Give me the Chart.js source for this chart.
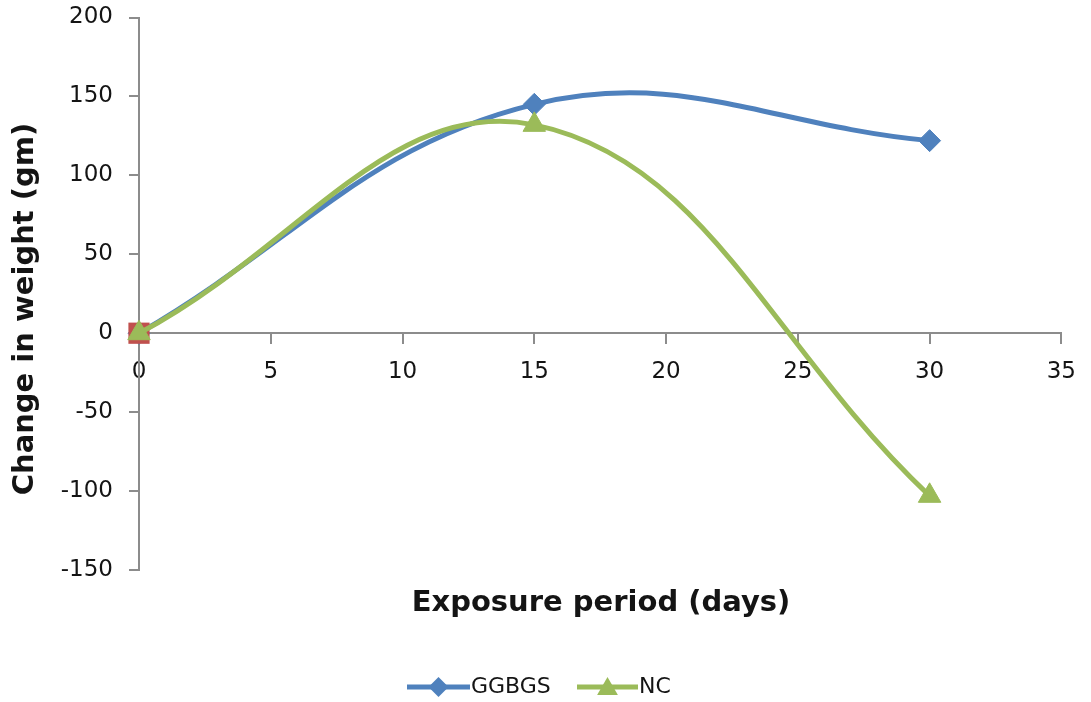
<!DOCTYPE html>
<html>
<head>
<meta charset="utf-8">
<script src="https://cdn.jsdelivr.net/npm/chart.js@4/dist/chart.umd.min.js"></script>
<style>
  html, body { margin: 0; padding: 0; background: #ffffff; }
  #wrap { width: 1091px; height: 702px; position: relative; }
</style>
</head>
<body>
<div id="wrap"><canvas id="chart"></canvas></div>
<script>
// Exposure period (days) and change in weight (gm) for each mix
const days = [0, 15, 30];
const ggbgs = [0, 145, 122];
const nc = [0, 132, -103];
const initialDays = [0];
const initialWeight = [0];

const xMin = 0, xMax = 35, xStep = 5;
const yMin = -150, yMax = 200, yStep = 50;

const xTitle = 'Exposure period (days)';
const yTitle = 'Change in weight (gm)';

const BLUE = '#4F81BD';
const RED = '#C0504D';
const GREEN = '#9BBB59';
const AXIS = '#8c8c8c';
const TEXT = '#141414';

const toPoints = (xs, ys) => xs.map((x, i) => ({ x: x, y: ys[i] }));

// Legend entries drawn beneath the plot (line sample with its marker)
const keyItems = [
  { label: 'GGBGS', color: BLUE, marker: 'diamond', x0: 407, x1: 470 },
  { label: 'NC', color: GREEN, marker: 'triangle', x0: 577, x1: 638 }
];

function markerPath(ctx, kind, cx, cy, r) {
  ctx.beginPath();
  if (kind === 'diamond') {
    ctx.moveTo(cx, cy - r);
    ctx.lineTo(cx + r, cy);
    ctx.lineTo(cx, cy + r);
    ctx.lineTo(cx - r, cy);
  } else {
    const h = r * Math.sqrt(3) / 2;
    ctx.moveTo(cx, cy - r);
    ctx.lineTo(cx + h, cy + r / 2);
    ctx.lineTo(cx - h, cy + r / 2);
  }
  ctx.closePath();
}

const titlesAndKey = {
  id: 'titlesAndKey',
  afterDraw(chart) {
    const ctx = chart.ctx;
    ctx.save();
    ctx.fillStyle = TEXT;
    ctx.font = 'bold 29px "DejaVu Sans"';
    ctx.textAlign = 'center';
    ctx.textBaseline = 'middle';
    ctx.fillText(xTitle, 601, 603);

    ctx.save();
    ctx.translate(25, 309);
    ctx.rotate(-Math.PI / 2);
    ctx.fillText(yTitle, 0, 0);
    ctx.restore();

    const ky = 687;
    keyItems.forEach(item => {
      ctx.strokeStyle = item.color;
      ctx.lineWidth = 5;
      ctx.lineCap = 'butt';
      ctx.beginPath();
      ctx.moveTo(item.x0, ky);
      ctx.lineTo(item.x1, ky);
      ctx.stroke();
      const cx = (item.x0 + item.x1) / 2;
      ctx.fillStyle = item.color;
      if (item.marker === 'diamond') {
        markerPath(ctx, 'diamond', cx, ky, 10);
      } else {
        markerPath(ctx, 'triangle', cx, ky + 2, 12);
      }
      ctx.fill();
      ctx.fillStyle = TEXT;
      ctx.font = '22px "DejaVu Sans"';
      ctx.textAlign = 'left';
      ctx.textBaseline = 'middle';
      ctx.fillText(item.label, item.x1 + 1, ky);
    });
    ctx.restore();
  }
};

new Chart(document.getElementById('chart'), {
  type: 'line',
  data: {
    datasets: [
      {
        label: 'GGBGS',
        data: toPoints(days, ggbgs),
        borderColor: BLUE,
        backgroundColor: BLUE,
        borderWidth: 5,
        tension: 0.4,
        pointStyle: 'rectRot',
        pointRadius: 11,
        pointBorderWidth: 1,
        pointBorderColor: BLUE,
        pointBackgroundColor: BLUE,
        clip: false,
        order: 3
      },
      {
        label: 'Initial',
        data: toPoints(initialDays, initialWeight),
        borderColor: RED,
        backgroundColor: RED,
        showLine: false,
        pointStyle: 'rect',
        pointRadius: 15,
        pointBorderWidth: 0,
        pointBackgroundColor: RED,
        clip: false,
        order: 2
      },
      {
        label: 'NC',
        data: toPoints(days, nc),
        borderColor: GREEN,
        backgroundColor: GREEN,
        borderWidth: 5,
        tension: 0.4,
        pointStyle: 'triangle',
        pointRadius: 13,
        pointBorderWidth: 1,
        pointBorderColor: GREEN,
        pointBackgroundColor: GREEN,
        clip: false,
        order: 1
      }
    ]
  },
  options: {
    responsive: true,
    maintainAspectRatio: false,
    animation: false,
    layout: { padding: { top: 17.5, right: 26, bottom: 132, left: 0 } },
    plugins: {
      legend: { display: false },
      tooltip: { enabled: false },
      title: { display: false }
    },
    scales: {
      x: {
        type: 'linear',
        position: { y: 0 },
        min: xMin,
        max: xMax,
        ticks: {
          stepSize: xStep,
          color: TEXT,
          font: { family: 'DejaVu Sans', size: 23 },
          padding: 15,
          maxRotation: 0
        },
        grid: { drawOnChartArea: false, drawTicks: true, tickLength: 10, color: AXIS, lineWidth: 2 },
        border: { display: true, color: AXIS, width: 2 }
      },
      y: {
        type: 'linear',
        position: 'left',
        min: yMin,
        max: yMax,
        afterFit(scale) {
          scale.width = 139;
          scale.paddingTop = 0;
          scale.paddingBottom = 0;
        },
        ticks: {
          stepSize: yStep,
          color: TEXT,
          font: { family: 'DejaVu Sans', size: 23 },
          padding: 16
        },
        grid: { drawOnChartArea: false, drawTicks: true, tickLength: 10, color: AXIS, lineWidth: 2 },
        border: { display: true, color: AXIS, width: 2 }
      }
    }
  },
  plugins: [titlesAndKey]
});
</script>
</body>
</html>
